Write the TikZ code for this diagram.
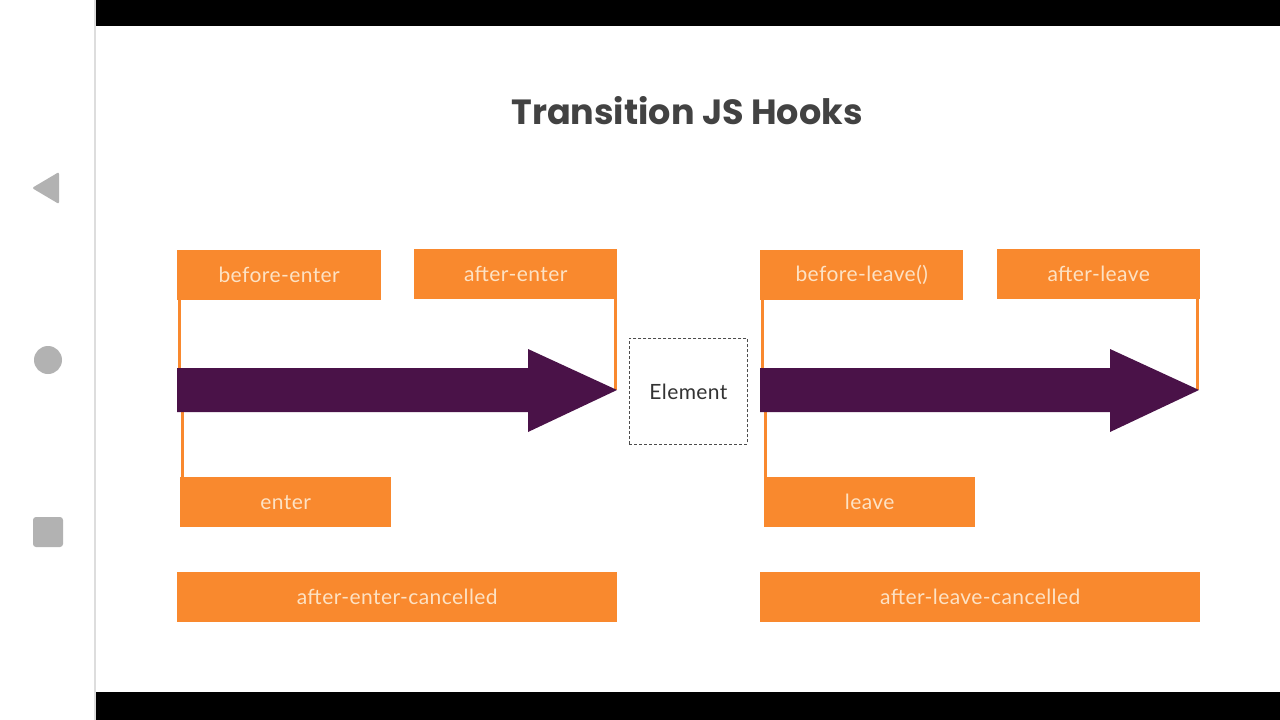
\documentclass[tikz,border=0pt]{standalone}
\usepackage{fontspec}
\setmainfont{Lato}[LetterSpace=2]
\newfontfamily\titlefont{Poppins}
\usetikzlibrary{calc}
\definecolor{hookorange}{RGB}{249,137,46}
\definecolor{hooktext}{RGB}{253,226,196}
\definecolor{arrowpurple}{RGB}{74,18,72}
\definecolor{navgray}{RGB}{178,178,178}
\definecolor{titlegray}{RGB}{66,66,66}
\definecolor{sepgray}{RGB}{221,221,221}
\begin{document}
\begin{tikzpicture}[x=1pt,y=-1pt,
  hookbox/.style={fill=hookorange, draw=none, inner sep=0pt, anchor=north west,
    text=hooktext, minimum height=50pt, font=\fontsize{21}{25}\selectfont},
  hookline/.style={draw=hookorange, line width=3pt},
  hookarrow/.style={fill=arrowpurple, draw=none},
  elembox/.style={draw=black!70, dash pattern=on 3pt off 2pt, line width=0.9pt,
    inner sep=0pt, anchor=north west, minimum width=118pt, minimum height=106pt,
    text=black!80, font=\fontsize{21}{25}\selectfont},
  navicon/.style={fill=navgray, draw=none}]
\useasboundingbox[fill=white] (0,0) rectangle (1280,720);
% phone frame
\fill[sepgray] (94,0) rectangle (96,720);
\fill[black] (96,0) rectangle (1280,26);
\fill[black] (96,692) rectangle (1280,720);
\fill[navicon, rounded corners=2pt] (59,172) -- (59,204) -- (32,188) -- cycle;
\fill[navicon] (48,360) circle (14);
\fill[navicon, rounded corners=3pt] (33,517) rectangle (63,547);
% title
\node[text=titlegray, font=\titlefont\bfseries\fontsize{35}{42}\selectfont] (title) at (687,111) {Transition JS Hooks};
% boxes
\node[hookbox, minimum width=204pt] (be) at (177,250) {before-enter};
\node[hookbox, minimum width=203pt] (ae) at (414,249) {after-enter};
\node[hookbox, minimum width=211pt] (en) at (180,477) {enter};
\node[hookbox, minimum width=440pt] (aec) at (177,572) {after-enter-cancelled};
\node[hookbox, minimum width=203pt] (bl) at (760,250) {before-leave()};
\node[hookbox, minimum width=203pt] (al) at (997,249) {after-leave};
\node[hookbox, minimum width=211pt] (lv) at (764,477) {leave};
\node[hookbox, minimum width=440pt] (alc) at (760,572) {after-leave-cancelled};
\node[elembox] (el) at (629,338) {Element};
% arrow key points
\coordinate (enterTop) at (179,370);
\coordinate (enterBot) at (182,410);
\coordinate (enterTip) at (615,390);
\coordinate (leaveTop) at (762,370);
\coordinate (leaveBot) at (765,410);
\coordinate (leaveTip) at (1197,390);
% connectors
\draw[hookline] (be.south west -| enterTop) -- (enterTop);
\draw[hookline] (enterBot) -- (en.north west -| enterBot);
\draw[hookline] (ae.south east -| enterTip) -- (enterTip);
\draw[hookline] (bl.south west -| leaveTop) -- (leaveTop);
\draw[hookline] (leaveBot) -- (lv.north west -| leaveBot);
\draw[hookline] (al.south east -| leaveTip) -- (leaveTip);
% arrows
\fill[hookarrow] (177,368) -- (528,368) -- (528,349) -- (617,390) -- (528,432) -- (528,412) -- (177,412) -- cycle;
\fill[hookarrow] (760,368) -- (1110,368) -- (1110,349) -- (1199,390) -- (1110,432) -- (1110,412) -- (760,412) -- cycle;
\end{tikzpicture}
\end{document}
